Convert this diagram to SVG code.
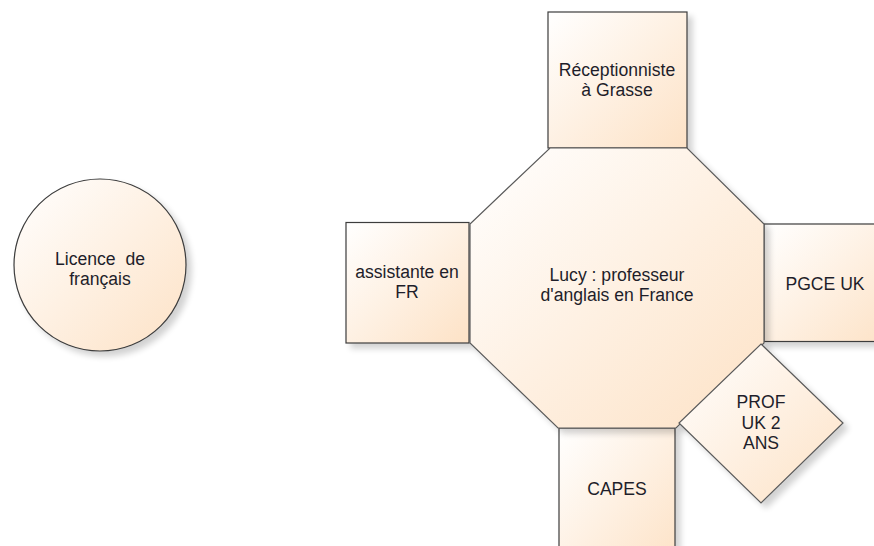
<svg xmlns="http://www.w3.org/2000/svg" width="874" height="546" viewBox="0 0 874 546">
<style>
.shape{fill:url(#g);stroke:#3c3c3c;stroke-width:1.2;filter:url(#sh)}
.oct{fill:url(#g);stroke:#5a5a5a;stroke-width:1.2;filter:url(#sh)}
.t{font-family:"Liberation Sans",Arial,sans-serif;font-size:17.6px;fill:#1e1e2a;text-anchor:middle}
</style>
<defs>
<linearGradient id="g" x1="0" y1="0" x2="1" y2="1">
<stop offset="0" stop-color="#FFFFFF"/>
<stop offset="1" stop-color="#FDE2C6"/>
</linearGradient>
<filter id="sh" x="-10%" y="-10%" width="130%" height="130%">
<feGaussianBlur in="SourceAlpha" stdDeviation="3"/>
<feOffset dx="5" dy="5" result="b"/>
<feComponentTransfer><feFuncA type="linear" slope="0.18"/></feComponentTransfer>
<feMerge><feMergeNode/><feMergeNode in="SourceGraphic"/></feMerge>
</filter>
</defs>
<g id="connectors"></g>
<g id="licence">
<circle class="shape" cx="100" cy="265" r="86"/>
<text class="t" x="100" y="265" xml:space="preserve">Licence  de</text>
<text class="t" x="100" y="285">français</text>
</g>
<g id="receptionniste">
<rect class="shape" x="548" y="12" width="139" height="136"/>
<text class="t" x="617" y="76">Réceptionniste</text>
<text class="t" x="617" y="96">à Grasse</text>
</g>
<g id="assistante">
<rect class="shape" x="346" y="222.5" width="123" height="120.5"/>
<text class="t" x="407" y="278">assistante en</text>
<text class="t" x="407" y="298">FR</text>
</g>
<g id="pgce">
<rect class="shape" x="764" y="224" width="130" height="117.5"/>
<text class="t" x="825" y="290">PGCE UK</text>
</g>
<g id="capes">
<rect class="shape" x="559" y="428" width="116" height="140"/>
<text class="t" x="617" y="495">CAPES</text>
</g>
<g id="lucy">
<polygon class="oct" points="550,148 687,148 764,224 764,343 676,428 558,428 470,343 470,224"/>
<text class="t" x="617" y="281">Lucy : professeur</text>
<text class="t" x="617" y="301">d'anglais en France</text>
</g>
<g id="prof">
<polygon class="oct" points="761,344 843,423 761,503 679,423"/>
<text class="t" x="761" y="408">PROF</text>
<text class="t" x="761" y="429">UK 2</text>
<text class="t" x="761" y="449">ANS</text>
</g>
</svg>
